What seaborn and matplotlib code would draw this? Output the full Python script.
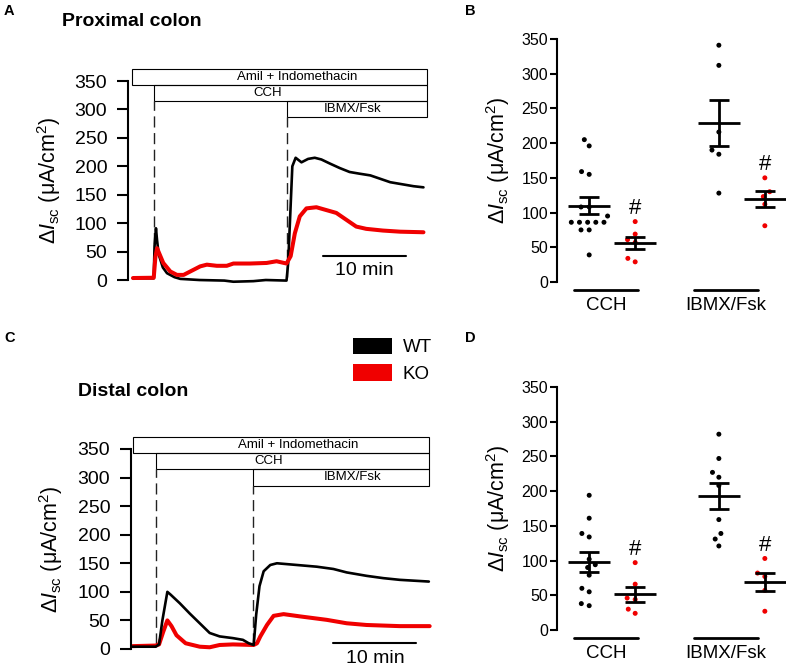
import numpy as np
import pandas as pd
import matplotlib
matplotlib.use("Agg")
import matplotlib.pyplot as plt
import seaborn as sns
from matplotlib.patches import Patch, Rectangle

# ---------------- data ----------------
genotypes = ["WT", "KO"]
conditions = ["CCH", "IBMX/Fsk"]
treatments = ["Amil + Indomethacin", "CCH", "IBMX/Fsk"]

# Isc traces (time in min, delta Isc in uA/cm2)
prox_wt_time = [0, 2.5, 2.6, 2.77, 2.9, 3.1, 3.6, 4.1, 5.0, 5.7, 8.0, 11.0, 12.1, 14.5, 16.0,
                18.5, 18.7, 19.2, 19.6, 20.3, 21.1, 21.9, 22.7, 23.7, 24.9, 26.1, 27.3, 28.6,
                29.8, 31.0, 32.6, 33.8, 35.0]
prox_wt_isc = [3, 3, 60, 91, 70, 45, 22, 12, 5, 2, 0, -1, -3, -2, 0,
               -1, 30, 200, 215, 207, 213, 215, 212, 205, 197, 190, 187, 184,
               178, 172, 168, 165, 163]
prox_ko_time = [0, 2.5, 2.7, 2.9, 3.65, 4.5, 5.3, 6.1, 6.9, 8.1, 8.9, 10.1, 11.3, 12.1, 14.1,
                16.1, 17.3, 18.5, 19.0, 19.5, 20.1, 20.9, 22.1, 23.3, 24.5, 25.7, 26.9, 28.1,
                30.1, 32.2, 35.0]
prox_ko_isc = [3.5, 4, 40, 56, 30, 15, 9, 9, 15, 24, 27, 25, 25, 29, 29,
               30, 33, 29, 42, 82, 112, 126, 128, 123, 118, 106, 94, 90,
               87, 85, 84]
dist_wt_time = [0, 2.8, 3.2, 3.6, 4.2, 4.6, 5.7, 6.9, 8.1, 9.3, 10.5, 12.1, 13.3, 14.0,
                14.6, 14.9, 15.3, 15.8, 16.6, 17.4, 19.0, 22.2, 24.2, 25.8, 28.2, 30.2,
                32.2, 35.7]
dist_wt_isc = [4, 4, 8, 50, 100, 95, 80, 62, 45, 28, 22, 19, 16, 10,
               7, 60, 110, 136, 147, 150, 148, 144, 140, 134, 128, 124,
               121, 118]
dist_ko_time = [0, 2.8, 3.2, 3.7, 4.2, 4.7, 5.3, 6.4, 8.1, 9.3, 10.5, 12.1, 14.6, 15.0,
                15.4, 16.2, 17.0, 18.2, 20.2, 23.4, 25.8, 28.2, 32.2, 35.8]
dist_ko_isc = [5, 6, 8, 30, 50, 40, 24, 10, 4, 3, 7, 8, 7, 10,
               22, 42, 58, 61, 57, 51, 45, 42, 40, 40]

# treatment timing (min): Amil start, CCH, IBMX/Fsk, end of recording
prox_treat_start = [-0.15, 2.5, 18.6]
prox_treat_end = 35.4
dist_treat_start = [0.1, 2.8, 14.55]
dist_treat_end = 35.75

# individual responses (uA/cm2)
prox_cch_wt = [205, 196, 159, 155, 108, 108, 95, 86, 86, 86, 86, 86, 75, 75, 39]
prox_cch_ko = [87, 69, 61, 57, 29, 34]
prox_ibmx_wt = [341, 312, 216, 190, 184, 128]
prox_ibmx_ko = [150, 130, 123, 112, 81]
dist_cch_wt = [194, 161, 139, 134, 102, 94, 90, 79, 60, 55, 38, 35]
dist_cch_ko = [97, 66, 46, 44, 30, 24]
dist_ibmx_wt = [282, 247, 227, 220, 208, 159, 139, 131, 121]
dist_ibmx_ko = [103, 82, 77, 57, 27]

# ---------------- style ----------------
RED = "#f00000"
pal = {"WT": "black", "KO": RED}
sns.set_style("white")
plt.rcParams["font.family"] = ["Liberation Sans", "DejaVu Sans"]
plt.rcParams["mathtext.fontset"] = "custom"
plt.rcParams["mathtext.rm"] = "Liberation Sans"
plt.rcParams["mathtext.it"] = "Liberation Sans:italic"
plt.rcParams["mathtext.bf"] = "Liberation Sans:bold"
for key in ["text.color", "axes.labelcolor", "xtick.color", "ytick.color", "axes.edgecolor"]:
    plt.rcParams[key] = "black"

YLABEL = r"$\mathit{\Delta I}_{\mathrm{sc}}$ (μA/cm$^{2}$)"

W, H = 787, 666
fig = plt.figure(figsize=(W / 100, H / 100), dpi=100)


def add_ax(left, top, right, bottom):
    return fig.add_axes([left / W, 1 - bottom / H, (right - left) / W, (bottom - top) / H])


def trace_panel(ax, wt_t, wt_v, ko_t, ko_v, starts, end, text_x, bar, bar_text_y, order, xlim,
                label_x, dash_bottom):
    df = pd.concat([
        pd.DataFrame({"time": wt_t, "isc": wt_v, "genotype": "WT"}),
        pd.DataFrame({"time": ko_t, "isc": ko_v, "genotype": "KO"}),
    ])
    sns.lineplot(data=df, x="time", y="isc", hue="genotype", size="genotype",
                 hue_order=order, size_order=order, palette=pal,
                 sizes={"WT": 1.9, "KO": 2.9}, estimator=None, sort=False,
                 legend=False, ax=ax)
    ax.set_xlim(*xlim)
    ax.set_ylim(-10, 375)
    rows = [(343, 371), (315, 343), (286, 315)]
    for s, (y0, y1), name, tx in zip(starts, rows, treatments, text_x):
        ax.add_patch(Rectangle((s, y0), end - s, y1 - y0, fill=False, lw=0.8,
                               edgecolor="black", clip_on=False))
        ax.text(tx, (y0 + y1) / 2, name, ha="center", va="center", fontsize=9.5)
    for s, (y0, _) in zip(starts[1:], rows[1:]):
        ax.plot([s, s], [dash_bottom, y0], color="#222222", lw=1.0,
                linestyle=(0, (8, 4)), zorder=1)
    ax.plot(bar[:2], [bar[2], bar[2]], color="black", lw=1.5, clip_on=False)
    ax.text(sum(bar[:2]) / 2, bar_text_y, "10 min", ha="center", va="center", fontsize=14)
    sns.despine(ax=ax, bottom=True)
    ax.spines["left"].set_bounds(0, 350)
    ax.spines["left"].set_linewidth(1.5)
    ax.set_xticks([])
    ax.set_yticks(range(0, 351, 50))
    ax.tick_params(axis="y", labelsize=14, length=8, width=1.5, pad=7, left=True)
    ax.set_xlabel("")
    ax.set_ylabel(YLABEL, fontsize=15.5)
    ax.yaxis.set_label_coords(label_x, (175 + 10) / 385)


def dot_panel(ax, values):
    group_pos = {"CCH": 0.0, "IBMX/Fsk": 2.82}
    geno_off = {"WT": 0.0, "KO": 1.0}
    rows = []
    for cond in conditions:
        for g in genotypes:
            for v in values[(cond, g)]:
                rows.append({"pos": group_pos[cond] + geno_off[g], "isc": v, "genotype": g})
    df = pd.DataFrame(rows)
    sns.swarmplot(data=df, x="pos", y="isc", hue="genotype", hue_order=genotypes,
                  palette=pal, native_scale=True, size=4.6, edgecolor="white",
                  linewidth=1.0, legend=False, ax=ax, zorder=2)
    stats = df.groupby("pos")["isc"].agg(["mean", "sem", "max"])
    xs = stats.index.to_numpy()
    ax.hlines(stats["mean"], xs - 0.45, xs + 0.45, color="black", lw=2, zorder=4)
    ax.errorbar(xs, stats["mean"], yerr=stats["sem"], fmt="none", ecolor="black",
                elinewidth=2, capsize=7.45, capthick=2, zorder=4)
    for cond in conditions:
        p = group_pos[cond] + geno_off["KO"]
        ax.text(p, stats.loc[p, "max"] + 19, "#", ha="center", va="center", fontsize=16)
    ax.set_xlim(-0.70, 4.28)
    ax.set_ylim(-15, 355)
    centers = [0.37, 2.98]
    for c in centers:
        ax.plot([c - 0.70, c + 0.70], [-11, -11], color="black", lw=2, clip_on=False)
    ax.set_xticks(centers)
    ax.set_xticklabels(conditions, fontsize=13.5)
    ax.tick_params(axis="x", length=0, pad=3)
    sns.despine(ax=ax, bottom=True)
    ax.spines["left"].set_bounds(0, 350)
    ax.spines["left"].set_linewidth(1.5)
    ax.set_yticks(range(0, 351, 50))
    ax.tick_params(axis="y", labelsize=11.5, length=5, width=1.5, pad=1.5, left=True)
    ax.set_xlabel("")
    ax.set_ylabel(YLABEL, fontsize=15.5)
    ax.yaxis.set_label_coords(-0.1965, (175 + 15) / 370)


# Panel A
axA = add_ax(128, 66.8, 430.1, 285.7)
trace_panel(axA, prox_wt_time, prox_wt_isc, prox_ko_time, prox_ko_isc,
            prox_treat_start, prox_treat_end, [19.8, 16.2, 26.4], (22.9, 32.9, 42), 17,
            ["WT", "KO"], (-0.6, 35.8), -0.215, 5)

# Panel C
axC = add_ax(131, 434.7, 433, 654.7)
trace_panel(axC, dist_wt_time, dist_wt_isc, dist_ko_time, dist_ko_isc,
            dist_treat_start, dist_treat_end, [20.0, 16.4, 26.5], (24.2, 34.2, 10), -16,
            ["KO", "WT"], (-0.18, 36.2), -0.2185, 8)

# Panel B
axB = add_ax(557, 35.5, 786, 292.4)
dot_panel(axB, {("CCH", "WT"): prox_cch_wt, ("CCH", "KO"): prox_cch_ko,
                ("IBMX/Fsk", "WT"): prox_ibmx_wt, ("IBMX/Fsk", "KO"): prox_ibmx_ko})

# Panel D
axD = add_ax(557, 383.5, 786, 640.4)
dot_panel(axD, {("CCH", "WT"): dist_cch_wt, ("CCH", "KO"): dist_cch_ko,
                ("IBMX/Fsk", "WT"): dist_ibmx_wt, ("IBMX/Fsk", "KO"): dist_ibmx_ko})

# Titles and panel letters
fig.text(62 / W, 1 - 22 / H, "Proximal colon", fontsize=14, fontweight="bold", va="center")
fig.text(78 / W, 1 - 392 / H, "Distal colon", fontsize=14, fontweight="bold", va="center")
for letter, x, y in [("A", 4, 11), ("B", 465, 11), ("C", 4, 338), ("D", 465, 338)]:
    fig.text(x / W, 1 - y / H, letter, fontsize=10.5, fontweight="bold", va="center")

# Legend
handles = [Patch(facecolor=pal[g], edgecolor="none") for g in genotypes]
fig.legend(handles, genotypes, loc="upper left", bbox_to_anchor=(353 / W, 1 - 337.5 / H),
           frameon=False, fontsize=13.5, handlelength=2.1, handleheight=1.0,
           handletextpad=0.55, labelspacing=0.4, borderpad=0, borderaxespad=0)

fig.savefig("out.png", dpi=100)
